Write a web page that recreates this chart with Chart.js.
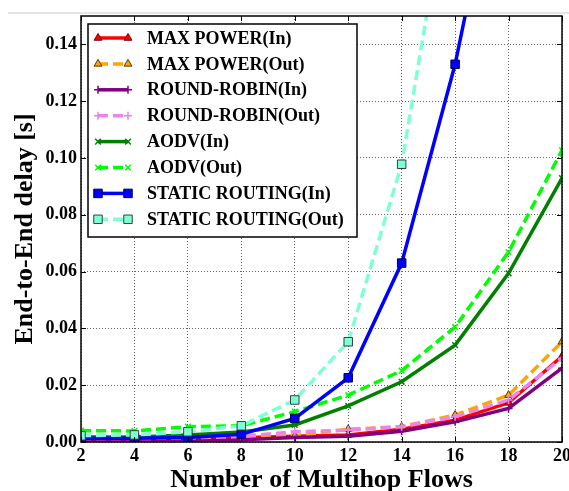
<!DOCTYPE html>
<html>
<head>
<meta charset="utf-8">
<script src="https://cdn.jsdelivr.net/npm/chart.js@4"></script>
<style>
  body { margin: 0; background: #fff; }
  #wrap { width: 569px; height: 491px; }
</style>
</head>
<body>
<div id="wrap"><canvas id="chart" width="569" height="491"></canvas></div>
<script>
// --- data ---
const flows = [2, 4, 6, 8, 10, 12, 14, 16, 18, 20];
const xTicks = [2, 4, 6, 8, 10, 12, 14, 16, 18, 20];
const yTicks = [0.00, 0.02, 0.04, 0.06, 0.08, 0.10, 0.12, 0.14];

const seriesNames = [
  'MAX POWER(In)', 'MAX POWER(Out)', 'ROUND-ROBIN(In)', 'ROUND-ROBIN(Out)',
  'AODV(In)', 'AODV(Out)', 'STATIC ROUTING(In)', 'STATIC ROUTING(Out)'
];
const maxPowerIn    = [0.0010, 0.0010, 0.0012, 0.0015, 0.0020, 0.0025, 0.0045, 0.0077, 0.0138, 0.0302];
const maxPowerOut   = [0.0012, 0.0012, 0.0015, 0.0018, 0.0022, 0.0045, 0.0054, 0.0095, 0.0165, 0.0353];
const roundRobinIn  = [0.0004, 0.0004, 0.0005, 0.0008, 0.0016, 0.0020, 0.0038, 0.0071, 0.0118, 0.0260];
const roundRobinOut = [0.0012, 0.0012, 0.0014, 0.0020, 0.0036, 0.0042, 0.0054, 0.0089, 0.0148, 0.0295];
const aodvIn        = [0.0018, 0.0018, 0.0025, 0.0035, 0.0060, 0.0127, 0.0212, 0.0341, 0.0594, 0.0929];
const aodvOut       = [0.0040, 0.0039, 0.0054, 0.0057, 0.0107, 0.0165, 0.0251, 0.0405, 0.0669, 0.1027];
const staticIn      = [0.0013, 0.0013, 0.0016, 0.0027, 0.0083, 0.0226, 0.0630, 0.1330, 0.2240, null];
const staticOut     = [0.0022, 0.0025, 0.0036, 0.0057, 0.0148, 0.0353, 0.0978, 0.2100, null, null];

const SERIF = '"Liberation Serif", "Times New Roman", serif';

function pts(vals) {
  return flows.map((x, i) => ({ x: x, y: vals[i] }));
}

function ds(label, vals, color, dashed, marker, radius, edge) {
  return {
    label: label,
    data: pts(vals),
    borderColor: color,
    backgroundColor: color,
    borderWidth: 3.5,
    borderDash: dashed ? [10, 5] : [],
    tension: 0,
    pointStyle: marker,
    pointRadius: radius,
    pointBackgroundColor: color,
    pointBorderColor: edge || color,
    pointBorderWidth: edge ? 1 : 1.5,
    spanGaps: false
  };
}

const datasets = [
  ds(seriesNames[0], maxPowerIn, '#ff0000', false, 'triangle', 4.5, '#7a0000'),
  ds(seriesNames[1], maxPowerOut, '#ffa500', true, 'triangle', 4.5, '#5a3a00'),
  ds(seriesNames[2], roundRobinIn, '#800080', false, 'cross', 4),
  ds(seriesNames[3], roundRobinOut, '#ee82ee', true, 'cross', 4),
  ds(seriesNames[4], aodvIn, '#008000', false, 'crossRot', 4),
  ds(seriesNames[5], aodvOut, '#00ff00', true, 'crossRot', 4),
  ds(seriesNames[6], staticIn, '#0000ff', false, 'rect', 6, '#000040'),
  ds(seriesNames[7], staticOut, '#7fffd4', true, 'rect', 6, '#304040')
];
// later series drawn on top, like the original plot
datasets.forEach((d, i) => { d.order = datasets.length - 1 - i; });

function marker(ctx, d, x, y) {
  const opts = {
    pointStyle: d.pointStyle, radius: d.pointRadius, rotation: 0,
    borderWidth: d.pointBorderWidth
  };
  ctx.save();
  ctx.setLineDash([]);
  ctx.fillStyle = d.pointBackgroundColor;
  ctx.strokeStyle = d.pointBorderColor;
  ctx.lineWidth = d.pointBorderWidth;
  if (Chart.helpers && Chart.helpers.drawPoint) {
    Chart.helpers.drawPoint(ctx, opts, x, y);
  } else {
    ctx.fillRect(x - 3, y - 3, 6, 6);
  }
  ctx.restore();
}

const framePlugin = {
  id: 'frame',
  beforeDraw(chart) {
    const ctx = chart.ctx;
    ctx.save();
    ctx.fillStyle = '#fff';
    ctx.fillRect(0, 0, chart.width, chart.height);
    ctx.strokeStyle = '#e4e4e4';
    ctx.lineWidth = 2;
    ctx.beginPath();
    ctx.moveTo(8, 13);
    ctx.lineTo(chart.width, 13);
    ctx.stroke();
    ctx.restore();
  },
  afterDatasetsDraw(chart) {
    const ctx = chart.ctx;
    const a = chart.chartArea;
    const xs = chart.scales.x, ys = chart.scales.y;
    ctx.save();
    ctx.strokeStyle = '#000';
    ctx.lineWidth = 1;
    ctx.beginPath();
    xTicks.forEach(v => {
      const px = Math.round(xs.getPixelForValue(v)) + 0.5;
      ctx.moveTo(px, a.bottom); ctx.lineTo(px, a.bottom - 5);
      ctx.moveTo(px, a.top); ctx.lineTo(px, a.top + 5);
    });
    yTicks.forEach(v => {
      const py = Math.round(ys.getPixelForValue(v)) + 0.5;
      ctx.moveTo(a.left, py); ctx.lineTo(a.left + 5, py);
      ctx.moveTo(a.right, py); ctx.lineTo(a.right - 5, py);
    });
    ctx.stroke();
    ctx.lineWidth = 1.5;
    ctx.strokeRect(a.left, a.top, a.right - a.left, a.bottom - a.top);

    // legend box inside the plot
    const bx = a.left + 7, by = a.top + 8, bw = 269, bh = 213;
    ctx.fillStyle = '#fff';
    ctx.fillRect(bx, by, bw, bh);
    ctx.lineWidth = 1.5;
    ctx.strokeStyle = '#000';
    ctx.strokeRect(bx, by, bw, bh);
    ctx.font = 'bold 18px ' + SERIF;
    ctx.textBaseline = 'middle';
    ctx.textAlign = 'left';
    chart.data.datasets.forEach((d, i) => {
      const y = by + 14 + i * 25.9;
      const x0 = bx + 10, x1 = bx + 40;
      ctx.save();
      ctx.strokeStyle = d.borderColor;
      ctx.lineWidth = d.borderWidth;
      ctx.setLineDash(d.borderDash);
      ctx.beginPath();
      ctx.moveTo(x0, y); ctx.lineTo(x1, y);
      ctx.stroke();
      ctx.restore();
      marker(ctx, d, x0, y);
      marker(ctx, d, x1, y);
      ctx.fillStyle = '#000';
      ctx.fillText(d.label, bx + 59, y + 1);
    });
    ctx.restore();
  }
};

new Chart(document.getElementById('chart'), {
  type: 'line',
  data: { datasets: datasets },
  plugins: [framePlugin],
  options: {
    responsive: false,
    animation: false,
    layout: { padding: { top: 16, right: 6, left: 0, bottom: 0 } },
    plugins: { legend: { display: false }, tooltip: { enabled: false } },
    elements: { line: { borderCapStyle: 'butt' } },
    scales: {
      x: {
        type: 'linear',
        min: 2,
        max: 20,
        afterBuildTicks: (s) => { s.ticks = xTicks.map(v => ({ value: v })); },
        afterFit: (s) => { s.height = 49; s.paddingLeft = 0; s.paddingRight = 0; },
        ticks: {
          padding: 4,
          maxRotation: 0,
          autoSkip: false,
          color: '#000',
          font: { family: SERIF, size: 18, weight: 'bold' }
        },
        grid: { color: '#666', lineWidth: 1, drawTicks: false },
        border: { display: false, dash: [1, 2] },
        title: {
          display: true,
          text: 'Number of Multihop Flows',
          color: '#000',
          padding: { top: 0, bottom: 0 },
          font: { family: SERIF, size: 26, weight: 'bold', lineHeight: 0.85 }
        }
      },
      y: {
        min: 0,
        max: 0.15,
        afterBuildTicks: (s) => { s.ticks = yTicks.map(v => ({ value: v })); },
        afterFit: (s) => { s.width = 81; s.paddingTop = 0; s.paddingBottom = 0; },
        ticks: {
          padding: 4,
          color: '#000',
          callback: (v) => Number(v).toFixed(2),
          font: { family: SERIF, size: 18, weight: 'bold' }
        },
        grid: { color: '#666', lineWidth: 1, drawTicks: false },
        border: { display: false, dash: [1, 2] },
        title: {
          display: true,
          text: 'End-to-End delay [s]',
          color: '#000',
          padding: { top: 12, bottom: 0 },
          font: { family: SERIF, size: 26, weight: 'bold', lineHeight: 1 }
        }
      }
    }
  }
});
</script>
</body>
</html>
